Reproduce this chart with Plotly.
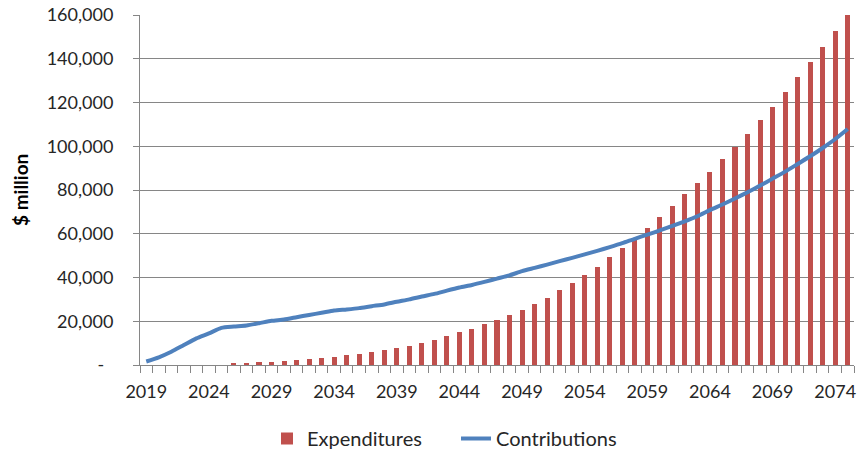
import plotly.graph_objects as go

years = list(range(2019, 2076))

expenditures = [
    0, 0, 0, 0, 0, 0, 0,                      # 2019-2025
    700, 800, 1150, 1300, 1700,               # 2026-2030
    2250, 2700, 3200, 3650, 4550,             # 2031-2035
    5000, 5900, 6800, 7900, 8800,             # 2036-2040
    10150, 11500, 13050, 14900, 16250,        # 2041-2045
    18550, 20500, 22800, 25350, 28100,        # 2046-2050
    30850, 34200, 37400, 41200, 45000,        # 2051-2055
    49200, 53450, 57550, 62850, 67550,        # 2056-2060
    72800, 78000, 83150, 88400, 94000,        # 2061-2065
    99850, 105800, 111950, 118050, 124650,    # 2066-2070
    131500, 138500, 145500, 152650, 160000,   # 2071-2075
]

contributions = [
    1600, 3500, 6050, 9100, 12150,            # 2019-2023
    14450, 17000, 17600, 18100, 19100,        # 2024-2028
    20200, 20800, 21850, 22900, 23850,        # 2029-2033
    24900, 25400, 26000, 26900, 27700,        # 2034-2038
    28900, 30000, 31300, 32500, 34000,        # 2039-2043
    35400, 36600, 38000, 39500, 41000,        # 2044-2048
    42900, 44400, 45900, 47500, 49000,        # 2049-2053
    50600, 52200, 53900, 55700, 57700,        # 2054-2058
    59600, 61500, 63600, 65700, 68000,        # 2059-2063
    70800, 73400, 76100, 79000, 82000,        # 2064-2068
    85200, 88400, 91900, 95400, 99200,        # 2069-2073
    103300, 107900,                           # 2074-2075
]

x_tick_years = list(range(2019, 2075, 5))
y_tick_values = [0, 20000, 40000, 60000, 80000, 100000, 120000, 140000, 160000]
y_tick_text = ["-\u00a0\u00a0", "20,000", "40,000", "60,000", "80,000",
               "100,000", "120,000", "140,000", "160,000"]

FONT = "Lato"
TXT = "#262626"
GRID = "#868686"

fig = go.Figure()
fig.add_trace(go.Bar(
    x=years, y=expenditures, name="Expenditures",
    marker=dict(color="#C0504D", line=dict(width=0)), width=0.4,
))
fig.add_trace(go.Scatter(
    x=years, y=contributions, name="Contributions", mode="lines",
    line=dict(color="#4F81BD", width=4, shape="spline", smoothing=0.6),
))

fig.update_layout(
    width=857, height=449,
    margin=dict(l=140, r=3, t=15, b=84, autoexpand=False),
    paper_bgcolor="white", plot_bgcolor="white",
    font=dict(family=FONT, size=18, color=TXT),
    showlegend=True,
    legend=dict(orientation="h", x=(267 - 140) / 714, xanchor="left",
                y=-0.21, yanchor="middle",
                font=dict(family=FONT, size=20, color=TXT), itemwidth=30,
                entrywidth=144, entrywidthmode="pixels",
                bgcolor="rgba(0,0,0,0)", traceorder="normal"),
    bargap=0,
)
fig.update_xaxes(
    type="linear", range=[2018.5, 2075.5],
    tickmode="array", tickvals=x_tick_years, ticktext=[str(v) for v in x_tick_years],
    ticks="", showgrid=False, zeroline=False,
    showline=True, linecolor=GRID, linewidth=1,
    ticklabelstandoff=10,
    tickfont=dict(family=FONT, size=18, color=TXT),
    minor=dict(ticks="outside", ticklen=7, tickcolor=GRID, tickwidth=1,
               tick0=2018.5, dtick=1, showgrid=False),
)
fig.update_yaxes(
    range=[0, 160000], tickmode="array", tickvals=y_tick_values, ticktext=y_tick_text,
    ticks="outside", ticklen=6, tickcolor=GRID, tickwidth=1,
    showgrid=True, gridcolor=GRID, gridwidth=1, zeroline=False,
    showline=True, linecolor=GRID, linewidth=1,
    ticklabelstandoff=16,
    tickfont=dict(family=FONT, size=18, color=TXT),
)
fig.add_annotation(
    text="<b>$ million</b>", textangle=-90, xref="paper", yref="paper",
    x=(20 - 140) / 714, y=0.5, xanchor="center", yanchor="middle", showarrow=False,
    font=dict(family=FONT, size=19, color="#000000"),
)

fig.write_html("out.html")
